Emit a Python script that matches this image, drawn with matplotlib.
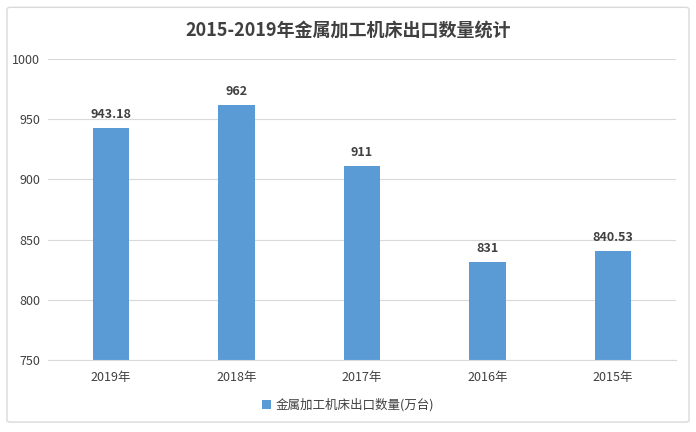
import matplotlib
matplotlib.use('Agg')
import matplotlib.pyplot as plt
from matplotlib.patches import FancyBboxPatch

plt.rcParams['font.family'] = ['Noto Sans CJK SC', 'DejaVu Sans']

years = ['2019年', '2018年', '2017年', '2016年', '2015年']
values = [943.18, 962, 911, 831, 840.53]
value_labels = ['943.18', '962', '911', '831', '840.53']
series_name = '金属加工机床出口数量(万台)'
title = '2015-2019年金属加工机床出口数量统计'

bar_color = '#5B9BD5'
text_color = '#404040'

fig = plt.figure(figsize=(6.96, 4.32), dpi=100)
ax = fig.add_axes([0.069, 0.167, 0.902, 0.696])

x = range(len(years))
bars = ax.bar(x, [v - 750 for v in values], bottom=750, width=0.29,
              color=bar_color, label=series_name, zorder=3)
for xi, v, lab in zip(x, values, value_labels):
    ax.annotate(lab, (xi, v), xytext=(0, 7), textcoords='offset pixels',
                ha='center', va='bottom', fontsize=9,
                fontweight='bold', color=text_color)

ax.set_xlim(-0.5, len(years) - 0.5)
ax.set_ylim(750, 1000)
ax.set_yticks([750, 800, 850, 900, 950, 1000])
ax.set_xticks(list(x))
ax.set_xticklabels(years, fontsize=9, color=text_color, fontweight='medium')
for t in ax.get_yticklabels():
    t.set_fontweight('medium')
ax.tick_params(axis='y', labelsize=9, labelcolor=text_color, length=0, pad=5.5)
ax.tick_params(axis='x', length=0, pad=8)
ax.grid(axis='y', color='#D9D9D9', linewidth=0.8, zorder=0)
for s in ['top', 'right', 'left']:
    ax.spines[s].set_visible(False)
ax.spines['bottom'].set_color('#D9D9D9')
ax.spines['bottom'].set_zorder(4)

fig.text(0.5, 0.93, title, ha='center', va='center', fontsize=13,
         fontweight='bold', color=text_color)

fig.legend(handles=[bars], labels=[series_name], loc='center',
           bbox_to_anchor=(0.5, 0.062), frameon=False, fontsize=9,
           handlelength=0.7, handleheight=0.7, handletextpad=0.4,
           labelcolor=text_color)

border = FancyBboxPatch((0.01, 0.023), 0.98, 0.96,
                        boxstyle='round,pad=0,rounding_size=0.005',
                        transform=fig.transFigure, fill=False,
                        edgecolor='#D9D9D9', linewidth=1)
fig.patches.append(border)

fig.savefig('out.png', dpi=100)
